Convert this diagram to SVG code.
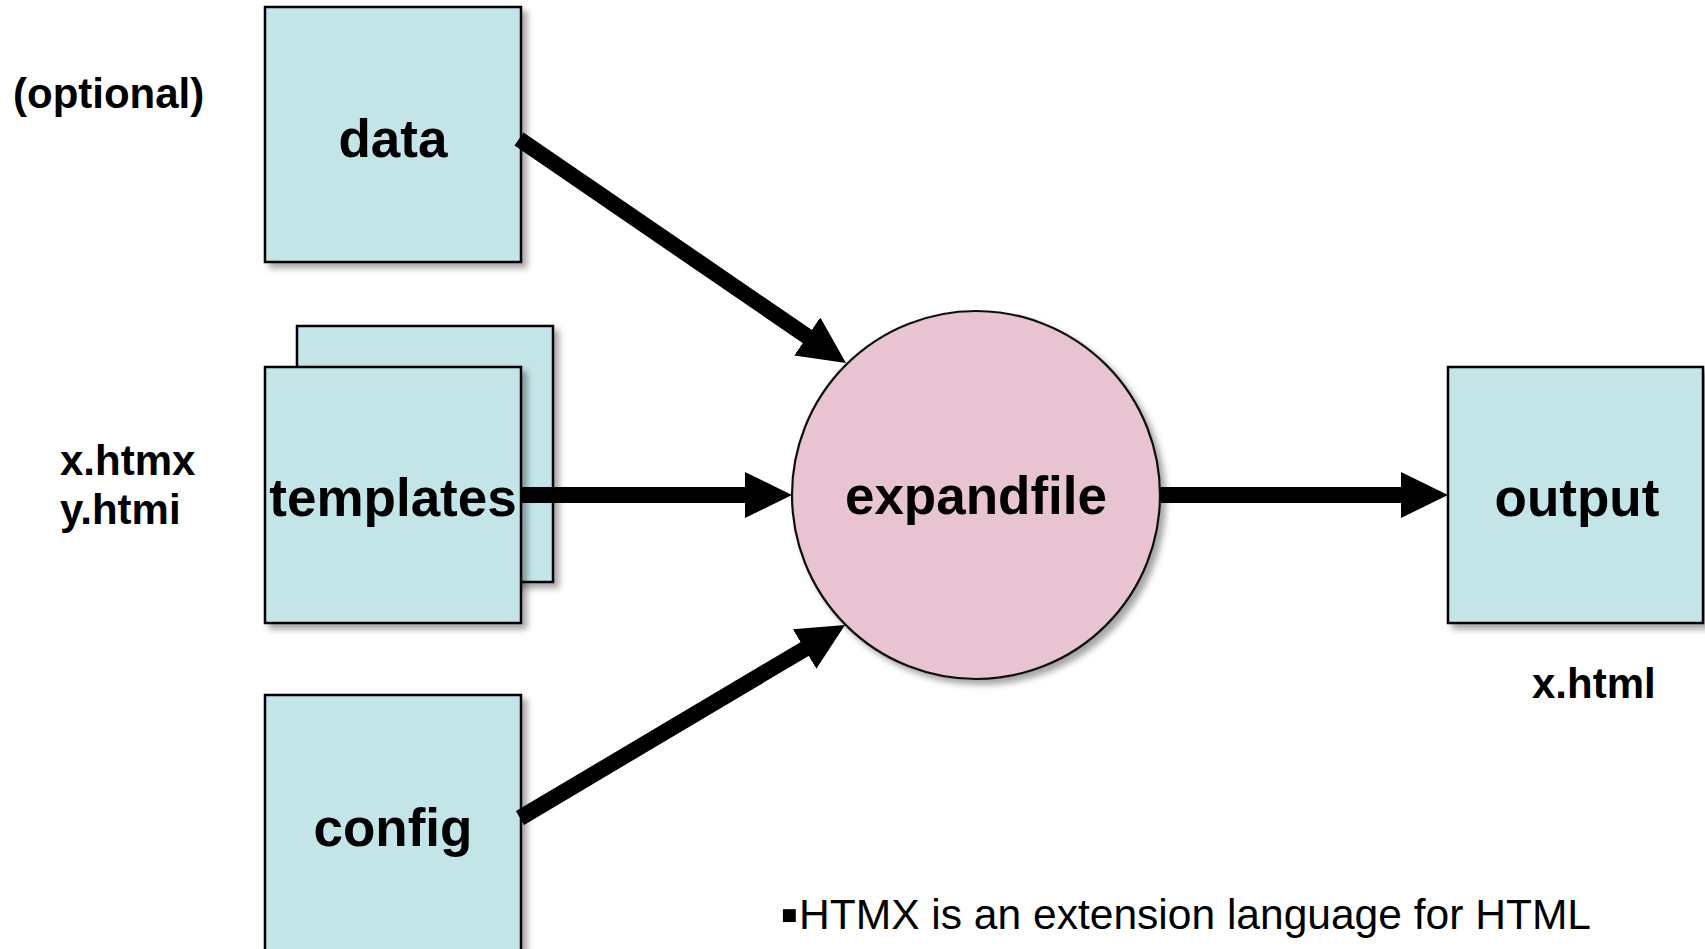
<svg xmlns="http://www.w3.org/2000/svg" width="1705" height="949" viewBox="0 0 1705 949">
<style>
.box{fill:#c3e5e8;stroke:#000;stroke-width:2.5}
.circ{fill:#e8c3d2;stroke:#111;stroke-width:2.2}
.lbl{font-family:"Liberation Sans",Arial,sans-serif;font-weight:bold;font-size:53px;fill:#000;text-anchor:middle}
.side{font-family:"Liberation Sans",Arial,sans-serif;font-weight:bold;font-size:42px;fill:#000}
.body{font-family:"Liberation Sans",Arial,sans-serif;font-size:43px;fill:#000}
.conn{stroke:#000;stroke-width:16;fill:none;stroke-linecap:butt}
</style>
<defs>
<filter id="sh" x="-10%" y="-10%" width="130%" height="130%">
<feDropShadow dx="5" dy="5" stdDeviation="3" flood-color="#000" flood-opacity="0.35"/>
</filter>
<marker id="ah" markerUnits="userSpaceOnUse" markerWidth="47" markerHeight="46" refX="22" refY="23" orient="auto" viewBox="0 0 47 46">
<path d="M0,0 L47,23 L0,46 z" fill="#000"/>
</marker>
</defs>
<rect width="1705" height="949" fill="#fff"/>

<text class="side" x="13" y="108">(optional)</text>
<text class="side" x="60" y="475">x.htmx</text>
<text class="side" x="60" y="524">y.htmi</text>
<text class="side" x="1532" y="698">x.html</text>

<g id="data">
<rect class="box" x="265" y="7" width="256" height="255" filter="url(#sh)"/>
<text class="lbl" x="393" y="157">data</text>
</g>
<g id="templates">
<rect class="box" x="297" y="326" width="256" height="256" filter="url(#sh)"/>
<rect class="box" x="265" y="367" width="256" height="256" filter="url(#sh)"/>
<text class="lbl" x="393" y="516">templates</text>
</g>
<g id="config">
<rect class="box" x="265" y="695" width="256" height="300" filter="url(#sh)"/>
<text class="lbl" x="393" y="846">config</text>
</g>
<g id="expandfile">
<circle class="circ" cx="976" cy="495" r="184" filter="url(#sh)"/>
<text class="lbl" x="976" y="514">expandfile</text>
</g>
<g id="output">
<rect class="box" x="1448" y="367" width="255" height="256" filter="url(#sh)"/>
<text class="lbl" x="1577" y="516">output</text>
</g>

<g id="connectors">
<line class="conn" x1="519" y1="139" x2="825.4" y2="348.9" marker-end="url(#ah)"/>
<line class="conn" x1="521" y1="495" x2="767" y2="495" marker-end="url(#ah)"/>
<line class="conn" x1="520" y1="818" x2="823.5" y2="637.8" marker-end="url(#ah)"/>
<line class="conn" x1="1160" y1="495" x2="1423" y2="495" marker-end="url(#ah)"/>
</g>

<text class="body" y="929"><tspan x="780" y="932" font-size="52">▪</tspan><tspan x="799" y="929" textLength="792" lengthAdjust="spacingAndGlyphs">HTMX is an extension language for HTML</tspan></text>
</svg>
